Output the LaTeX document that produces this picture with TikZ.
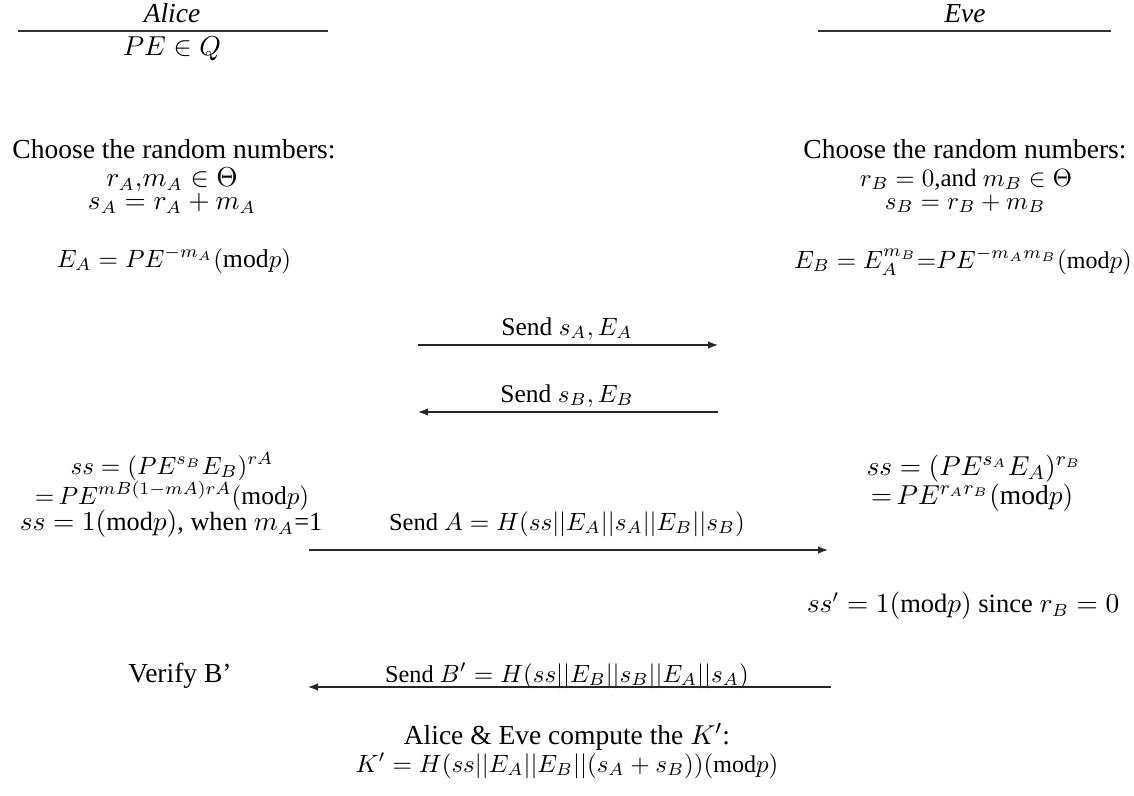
\documentclass[tikz,border=0pt]{standalone}
\usepackage{fontspec}
\setmainfont{Liberation Serif}
\usetikzlibrary{arrows.meta}
\begin{document}
\begin{tikzpicture}[x=0.4pt,y=-0.4pt,
  txt/.style={anchor=base,inner sep=0pt,font=\fontsize{11}{13}\selectfont},
  sz/.style={font=\fontsize{#1}{13}\selectfont},
  rule/.style={line width=0.5pt,draw=black!80},
  conn/.style={-{Latex[length=4pt,width=3pt]},line width=0.5pt,draw=black!85}]
\useasboundingbox (0,0) rectangle (1134,795);
% headers
\node[txt] (alice) at (172,22) {\textit{Alice}};
\coordinate (al1) at (18,31); \coordinate (al2) at (328,31);
\draw[rule] (al1) -- (al2);
\node[txt] (pe) at (172,55) {$PE\in Q$};
\node[txt] (eve) at (965,22) {\textit{Eve}};
\coordinate (el1) at (818,31); \coordinate (el2) at (1111,31);
\draw[rule] (el1) -- (el2);
% Alice choices
\node[txt] (ach) at (174,158) {Choose the random numbers:};
\node[txt,sz=10.5] (arm) at (172,186) {$r_A{,}m_A\in\Theta$};
\node[txt,sz=10.5] (asa) at (172,209) {$s_A=r_A+m_A$};
\node[txt,sz=10.3] (aea) at (174,267) {$E_A=PE^{-m_A}(\mathrm{mod}p)$};
% Eve choices
\node[txt] (ech) at (965,158) {Choose the random numbers:};
\node[txt,sz=10] (erm) at (966,186) {$r_B=0$,and $m_B\in\Theta$};
\node[txt,sz=10] (esb) at (965,209) {$s_B=r_B+m_B$};
\node[txt,sz=9.6] (eeb) at (963,268) {$E_B=E_A^{m_B}{=}PE^{-m_Am_B}(\mathrm{mod}p)$};
% messages 1,2
\node[txt,sz=10.2] (m1) at (567,335) {Send $s_A,E_A$};
\coordinate (m1s) at (418,345); \coordinate (m1e) at (718,345);
\draw[conn] (m1s) -- (m1e);
\node[txt,sz=10.2] (m2) at (567,402) {Send $s_B,E_B$};
\coordinate (m2s) at (718,412); \coordinate (m2e) at (418,412);
\draw[conn] (m2s) -- (m2e);
% Alice ss
\node[txt,sz=9.8] (ass1) at (172,474) {$ss=(PE^{s_B}E_B)^{rA}$};
\node[txt,sz=10.2] (ass2) at (172,504) {${=}\,PE^{mB(1-mA)rA}(\mathrm{mod}p)$};
\node[txt,sz=10.5] (ass3) at (171,530) {$ss=1(\mathrm{mod}p)$, when $m_A${=}1};
% Eve ss
\node[txt] (ess1) at (974,475) {$ss=(PE^{s_A}E_A)^{r_B}$};
\node[txt] (ess2) at (972,504) {${=}\,PE^{r_Ar_B}(\mathrm{mod}p)$};
% message 3
\node[txt,sz=9.8] (m3) at (567,530) {Send $A=H(ss||E_A||s_A||E_B||s_B)$};
\coordinate (m3s) at (309,550); \coordinate (m3e) at (828,550);
\draw[conn] (m3s) -- (m3e);
\node[txt,sz=10.6] (essp) at (963,612) {$ss'=1(\mathrm{mod}p)$ since $r_B=0$};
% message 4
\node[txt] (ver) at (180,682) {Verify B’};
\node[txt,sz=9.7] (m4) at (567,682) {Send $B'=H(ss||E_B||s_B||E_A||s_A)$};
\coordinate (m4s) at (831,687); \coordinate (m4e) at (308,687);
\draw[conn] (m4s) -- (m4e);
% final
\node[txt] (fin1) at (567,744) {Alice \& Eve compute the $K'$:};
\node[txt,sz=9.6] (fin2) at (567,772) {$K'=H(ss||E_A||E_B||(s_A+s_B))(\mathrm{mod}p)$};
\end{tikzpicture}
\end{document}
